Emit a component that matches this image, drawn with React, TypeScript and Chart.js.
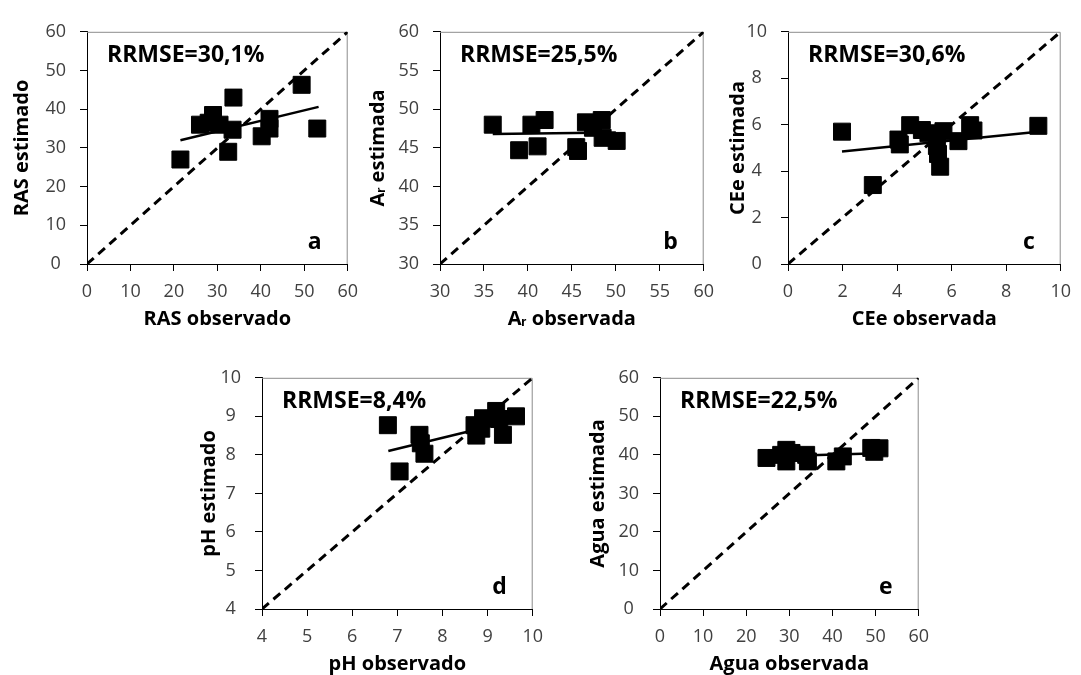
import React, { useEffect, useRef } from "react";
import { Chart, registerables } from "chart.js";

Chart.register(...registerables);

// ---- Data ----
const RAS_OBS = [21.5, 26, 28, 29, 30.5, 32.5, 33.5, 33.7, 40.2, 42, 42, 49.4, 53];
const RAS_EST = [27, 36, 36.5, 38.5, 36, 29, 34.7, 43, 33, 35, 37.5, 46.3, 35];
const RAS_TREND_X = [21.5, 53.3];
const RAS_TREND_Y = [32, 40.6];

const AR_OBS = [36, 39, 40.4, 41.1, 41.9, 45.5, 45.7, 46.6, 47.4, 48.4, 48.5, 50.1];
const AR_EST = [48, 44.7, 48, 45.2, 48.6, 45.1, 44.6, 48.3, 47.6, 48.6, 46.3, 45.9];
const AR_TREND_X = [36, 50];
const AR_TREND_Y = [46.8, 47.0];

const CE_OBS = [1.98, 3.11, 4.05, 4.1, 4.48, 4.91, 5.15, 5.46, 5.5, 5.58, 5.7, 6.25, 6.68, 6.8, 9.18];
const CE_EST = [5.7, 3.4, 5.36, 5.15, 5.98, 5.77, 5.63, 5.08, 4.74, 4.19, 5.72, 5.29, 5.98, 5.75, 5.95];
const CE_TREND_X = [1.98, 9.18];
const CE_TREND_Y = [4.85, 5.7];

const PH_OBS = [6.79, 7.05, 7.49, 7.52, 7.6, 8.71, 8.75, 8.86, 8.9, 9.19, 9.26, 9.34, 9.63];
const PH_EST = [8.77, 7.57, 8.52, 8.3, 8.03, 8.77, 8.5, 8.68, 8.95, 9.14, 8.93, 8.52, 9.0];
const PH_TREND_X = [6.8, 9.6];
const PH_TREND_Y = [8.1, 8.9];

const AGUA_OBS = [24.7, 28.1, 29.3, 29.3, 30.5, 33.9, 34.3, 40.9, 42.4, 49, 49.7, 50.9];
const AGUA_EST = [39.2, 40, 41.3, 38.3, 40.5, 40, 38.3, 38.3, 39.6, 41.8, 40.8, 41.7];
const AGUA_TREND_X = [24.7, 50.9];
const AGUA_TREND_Y = [39.6, 40.4];

const RRMSE_LABELS = ["RRMSE=30,1%", "RRMSE=25,5%", "RRMSE=30,6%", "RRMSE=8,4%", "RRMSE=22,5%"];
const PANEL_LETTERS = ["a", "b", "c", "d", "e"];
const X_TITLES = ["RAS observado", "Aᵣ observada", "CEe observada", "pH observado", "Agua observada"];
const Y_TITLES = ["RAS estimado", "Aᵣ estimada", "CEe estimada", "pH estimado", "Agua estimada"];
const AXIS_MIN = [0, 30, 0, 4, 0];
const AXIS_MAX = [60, 60, 10, 10, 60];
const AXIS_STEP = [10, 5, 2, 1, 10];

// ---- Layout (plot rectangles in page pixels) ----
const PANELS = [
  { L: 87, T: 21, R: 348, B: 264, titleX: 22, obs: RAS_OBS, est: RAS_EST, tx: RAS_TREND_X, ty: RAS_TREND_Y },
  { L: 440, T: 21, R: 704, B: 264, titleX: 378, obs: AR_OBS, est: AR_EST, tx: AR_TREND_X, ty: AR_TREND_Y },
  { L: 788, T: 21, R: 1061, B: 264, titleX: 738, obs: CE_OBS, est: CE_EST, tx: CE_TREND_X, ty: CE_TREND_Y },
  { L: 262, T: 367, R: 533, B: 609, titleX: 209, obs: PH_OBS, est: PH_EST, tx: PH_TREND_X, ty: PH_TREND_Y },
  { L: 660, T: 367, R: 919, B: 609, titleX: 598, obs: AGUA_OBS, est: AGUA_EST, tx: AGUA_TREND_X, ty: AGUA_TREND_Y },
];

const PAD_TOP = 14;
const PAD_RIGHT = 20;
const X_AXIS_H = 67;
const TITLE_FONT = 20;
const TITLE_LH = TITLE_FONT * 1.2;
const FONT = "'Open Sans', sans-serif";

function Panel({ idx }: { idx: number }) {
  const ref = useRef<HTMLCanvasElement | null>(null);
  const p = PANELS[idx];
  const yAxisW = p.L - p.titleX + TITLE_LH / 2;
  const canvasLeft = p.L - yAxisW;
  const canvasTop = p.T - PAD_TOP;
  const width = yAxisW + (p.R - p.L) + PAD_RIGHT;
  const height = PAD_TOP + (p.B - p.T) + X_AXIS_H;

  useEffect(() => {
    if (!ref.current) return;
    const min = AXIS_MIN[idx];
    const max = AXIS_MAX[idx];
    const points = p.obs.map((x, i) => ({ x, y: p.est[i] }));
    const trend = p.tx.map((x, i) => ({ x, y: p.ty[i] }));
    const diag = [
      { x: min, y: min },
      { x: max, y: max },
    ];

    const decor = {
      id: "decor" + idx,
      beforeDatasetsDraw(chart: any) {
        const { ctx, chartArea: a } = chart;
        ctx.save();
        ctx.strokeStyle = "#8c8c8c";
        ctx.lineWidth = 1;
        ctx.beginPath();
        ctx.moveTo(a.left, a.top + 0.5);
        ctx.lineTo(a.right - 0.5, a.top + 0.5);
        ctx.lineTo(a.right - 0.5, a.bottom);
        ctx.stroke();
        ctx.restore();
      },
      afterDraw(chart: any) {
        const { ctx, chartArea: a } = chart;
        ctx.save();
        ctx.fillStyle = "#000";
        ctx.font = `bold 23px ${FONT}`;
        ctx.textBaseline = "middle";
        ctx.textAlign = "left";
        ctx.fillText(RRMSE_LABELS[idx], a.left + 20, a.top + 24);
        ctx.textAlign = "right";
        ctx.fillText(PANEL_LETTERS[idx], a.right - 26, a.bottom - 22);
        ctx.restore();
      },
    };

    const chart = new Chart(ref.current, {
      type: "scatter",
      data: {
        datasets: [
          {
            data: points,
            pointStyle: "rect",
            pointRadius: 12,
            pointBackgroundColor: "#000",
            pointBorderColor: "#000",
            pointBorderWidth: 1,
            showLine: false,
          },
          {
            data: trend,
            showLine: true,
            borderColor: "#000",
            borderWidth: 2.5,
            pointRadius: 0,
          },
          {
            data: diag,
            showLine: true,
            borderColor: "#000",
            borderWidth: 3,
            borderDash: [9, 6],
            pointRadius: 0,
          },
        ],
      },
      options: {
        animation: false,
        responsive: false,
        maintainAspectRatio: false,
        layout: { padding: { top: PAD_TOP, right: PAD_RIGHT, left: 0, bottom: 0 } },
        plugins: { legend: { display: false }, tooltip: { enabled: false }, title: { display: false } },
        scales: {
          x: {
            type: "linear",
            min,
            max,
            afterFit: (s: any) => {
              s.height = X_AXIS_H;
            },
            ticks: {
              stepSize: AXIS_STEP[idx],
              padding: 10,
              color: "#404040",
              font: { family: FONT, size: 18 },
              maxRotation: 0,
            },
            grid: { drawOnChartArea: false, drawTicks: true, tickLength: 7, tickColor: "#000", tickWidth: 1 },
            border: { display: true, color: "#000", width: 1 },
            title: {
              display: true,
              text: X_TITLES[idx],
              color: "#000",
              font: { family: FONT, size: TITLE_FONT, weight: "bold" },
              padding: { top: 0, bottom: 0 },
            },
          },
          y: {
            type: "linear",
            min,
            max,
            afterFit: (s: any) => {
              s.width = yAxisW;
            },
            ticks: {
              stepSize: AXIS_STEP[idx],
              padding: 14,
              crossAlign: "center",
              color: "#404040",
              font: { family: FONT, size: 18 },
            },
            grid: { drawOnChartArea: false, drawTicks: true, tickLength: 7, tickColor: "#000", tickWidth: 1 },
            border: { display: true, color: "#000", width: 1 },
            title: {
              display: true,
              text: Y_TITLES[idx],
              color: "#000",
              font: { family: FONT, size: TITLE_FONT, weight: "bold" },
              padding: { top: 0, bottom: 0 },
            },
          },
        },
      },
      plugins: [decor],
    });
    return () => chart.destroy();
  }, [idx]);

  return (
    <canvas
      ref={ref}
      width={width}
      height={height}
      style={{ position: "absolute", left: canvasLeft, top: canvasTop, width, height }}
    />
  );
}

export default function App() {
  return (
    <div style={{ position: "absolute", left: 0, top: 0, width: 1081, height: 675, background: "#fff" }}>
      {PANELS.map((_, i) => (
        <Panel key={i} idx={i} />
      ))}
    </div>
  );
}
